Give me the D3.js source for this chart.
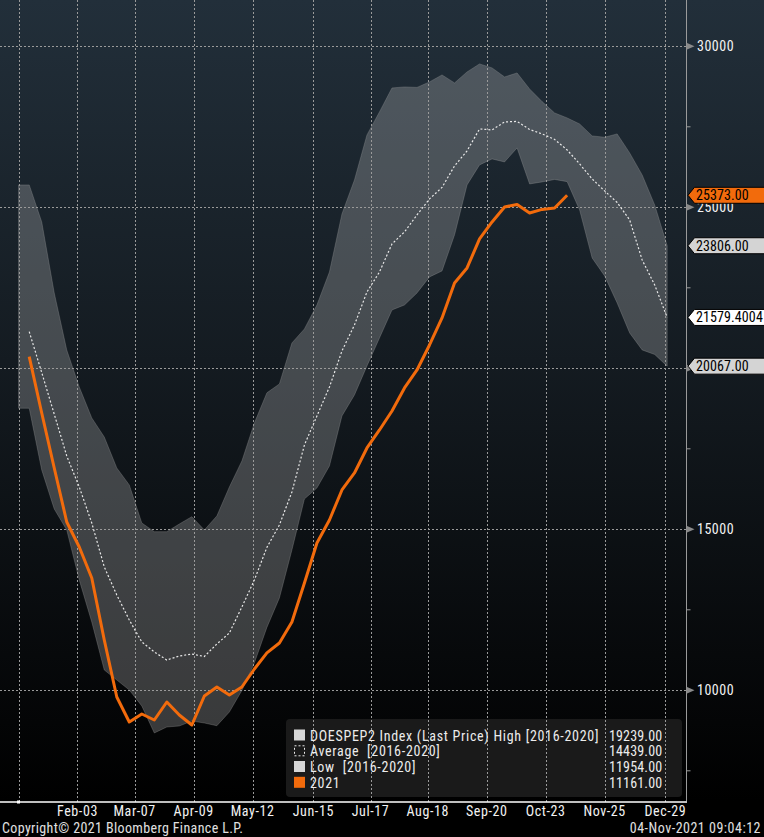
<!DOCTYPE html>
<html>
<head>
<meta charset="utf-8">
<script src="https://cdn.jsdelivr.net/npm/d3@7"></script>
<style>
  html, body { margin: 0; padding: 0; background: #000; }
  svg { display: block; }
  text { font-family: "Liberation Sans Narrow", "Roboto Condensed", "DejaVu Sans Condensed", "Liberation Sans", sans-serif; white-space: pre; }
</style>
</head>
<body>
<svg id="chart" width="764" height="837"></svg>
<script>
// ---------------- DATA ----------------
const bandStart = "2021-01-01";          // band begins at Jan 1
const firstWeek = "2021-01-07";          // weekly observations
const weekCount = 52;

const highValues = [25695, 25695, 24545, 22340, 20570, 19420, 18458, 17867, 16905, 16377, 15196, 14926, 14926,
  15165, 15392, 14979, 15414, 16314, 17122, 18302, 19239, 19514, 20787, 21222, 21967, 22992, 24794, 25850,
  27248, 27962, 28707, 28738, 28723, 28894, 29111, 28863, 29204, 29453, 29329, 29049, 29173, 28676, 28282,
  27931, 27776, 27589, 27217, 27176, 27279, 26689, 26005, 25073, 23806];

const lowValues = [18759, 18759, 16843, 15631, 14979, 13426, 12121, 10631, 10320, 10009, 9512, 8674, 8860,
  8891, 9046, 8984, 8900, 9326, 9994, 10848, 11954, 12867, 14358, 15942, 16283, 16967, 18520, 19172,
  20073, 20942, 21812, 21967, 22340, 22837, 23024, 24142, 25695, 26316, 26502, 26409, 26844, 25726, 25788,
  25865, 25797, 24918, 23427, 22868, 22030, 21098, 20570, 20430, 20067];

const avgValues = [21138, 19868, 18576, 17277, 16314, 15196, 13830, 12960, 12184, 11500, 11190, 10941, 11065,
  11127, 11050, 11438, 11780, 12587, 13426, 14439, 15134, 16159, 17619, 18520, 19420, 20539, 21346, 22371,
  22992, 23862, 24235, 24763, 25260, 25617, 26285, 26751, 27434, 27403, 27651, 27667, 27418, 27279, 27108,
  26782, 26347, 25881, 25508, 25151, 24608, 23365, 22589, 21579.4];

const values2021 = [20362, 18613, 16905, 15227, 14451, 13488, 11562, 9792, 9015, 9264, 9078, 9637, 9233,
  8922, 9823, 10102, 9854, 10102, 10662, 11161, 11469, 12121, 13333, 14575, 15290, 16221, 16749, 17526,
  18085, 18675, 19389, 19948, 20725, 21564, 22651, 23117, 24017, 24545, 25011, 25089, 24825, 24934, 24980, 25373];

const xTickDates = ["2021-02-03", "2021-03-07", "2021-04-09", "2021-05-12", "2021-06-15", "2021-07-17",
  "2021-08-18", "2021-09-20", "2021-10-23", "2021-11-25", "2021-12-29"];
const yTicks = [10000, 15000, 20000, 25000, 30000];
const yMinorTicks = [7500, 12500, 17500, 22500, 27500];

const legendLabels = ["DOESPEP2 Index (Last Price) High [2016-2020]", "Average  [2016-2020]", "Low  [2016-2020]", "2021"];
const legendValues = ["19239.00", "14439.00", "11954.00", "11161.00"];

const calloutValues = [25373.00, 23806.00, 21579.4004, 20067.00];
const calloutTexts = ["25373.00", "23806.00", "21579.4004", "20067.00"];

const copyrightText = "Copyright\u00A9 2021 Bloomberg Finance L.P.";
const stampText = "04-Nov-2021 09:04:12";

// ---------------- SETUP ----------------
const W = 764, H = 837;
const plotRight = 686.5, plotBottom = 802;
const ORANGE = "#f26b0c";

const parse = d3.utcParse("%Y-%m-%d");
const weeks = d3.range(weekCount).map(i => d3.utcDay.offset(parse(firstWeek), 7 * i));
const bandDates = [parse(bandStart)].concat(weeks);

const x = d3.scaleUtc()
  .domain([parse("2021-01-01"), parse("2021-12-29")])
  .range([18.5, 665.4]);
const y = d3.scaleLinear().domain([10000, 30000]).range([690.3, 46.3]);

const svg = d3.select("#chart");
const defs = svg.append("defs");
const grad = defs.append("linearGradient").attr("id", "bg").attr("x1", 0).attr("y1", 0).attr("x2", 0).attr("y2", 1);
grad.append("stop").attr("offset", "0").attr("stop-color", "#222f3a");
grad.append("stop").attr("offset", "0.45").attr("stop-color", "#141b21");
grad.append("stop").attr("offset", "0.9").attr("stop-color", "#040506");
grad.append("stop").attr("offset", "1").attr("stop-color", "#000000");

svg.append("rect").attr("width", W).attr("height", H).attr("fill", "#000");
svg.append("rect").attr("width", W).attr("height", plotBottom).attr("fill", "url(#bg)");

// legend background (under grid)
const legX = 286, legY = 719, legW = 396, legH = 78;
svg.append("rect").attr("x", legX).attr("y", legY).attr("width", legW).attr("height", legH)
  .attr("rx", 4).attr("fill", "#1a1a1a");

// band
const bandData = bandDates.map((d, i) => ({ d, hi: highValues[i], lo: lowValues[i] }));
svg.append("path").datum(bandData)
  .attr("d", d3.area().x(p => x(p.d)).y0(p => y(p.lo)).y1(p => y(p.hi)))
  .attr("fill", "rgba(213,213,213,0.26)")
  .attr("stroke", "rgba(170,170,170,0.28)").attr("stroke-width", 1);

// grid
const gridDates = [parse("2021-01-01")].concat(xTickDates.map(parse));
const grid = svg.append("g").attr("stroke", "#9a9a9a").attr("stroke-width", 1).attr("stroke-dasharray", "2,2");
grid.selectAll("line.v").data(gridDates).join("line")
  .attr("x1", d => Math.round(x(d)) + 0.5).attr("x2", d => Math.round(x(d)) + 0.5)
  .attr("y1", 0).attr("y2", plotBottom);
grid.selectAll("line.h").data(yTicks).join("line")
  .attr("x1", 0).attr("x2", plotRight)
  .attr("y1", d => Math.round(y(d)) + 0.5).attr("y2", d => Math.round(y(d)) + 0.5);

// average
svg.append("path").datum(avgValues)
  .attr("d", d3.line().x((v, i) => x(weeks[i])).y(v => y(v)))
  .attr("fill", "none").attr("stroke", "#e8e8e8").attr("stroke-width", 1.2).attr("stroke-dasharray", "2,2");

// 2021
svg.append("path").datum(values2021)
  .attr("d", d3.line().x((v, i) => x(weeks[i])).y(v => y(v)))
  .attr("fill", "none").attr("stroke", ORANGE).attr("stroke-width", 3).attr("stroke-linejoin", "round");

// axes
svg.append("line").attr("x1", plotRight).attr("x2", plotRight).attr("y1", 0).attr("y2", plotBottom + 1)
  .attr("stroke", "#9a9a9a").attr("stroke-width", 1);
svg.append("line").attr("x1", 0).attr("x2", plotRight).attr("y1", plotBottom).attr("y2", plotBottom)
  .attr("stroke", "#ffffff").attr("stroke-width", 1.5);
svg.append("rect").attr("x", x(parse("2021-01-01")) - 1.5).attr("y", plotBottom - 1.5).attr("width", 3).attr("height", 3).attr("fill", "#fff");

// right axis ticks
svg.selectAll("path.ytri").data(yTicks).join("path")
  .attr("d", d => { const c = y(d); return `M${plotRight},${c - 3.5}L${plotRight + 8},${c}L${plotRight},${c + 3.5}Z`; })
  .attr("fill", "#8a8a8a");
svg.selectAll("line.ymin").data(yMinorTicks).join("line")
  .attr("x1", plotRight).attr("x2", plotRight + 4)
  .attr("y1", d => y(d)).attr("y2", d => y(d)).attr("stroke", "#9a9a9a");
// tick labels fully hidden under a callout tag are not drawn (as in the reference)
const visibleTicks = yTicks.filter(t => !calloutValues.some(v => Math.abs(y(v) - y(t)) < 8));
svg.selectAll("text.ytick").data(visibleTicks).join("text")
  .attr("x", 697).attr("y", d => y(d) + 5)
  .attr("fill", "#f2f2f2").attr("font-size", 14).attr("letter-spacing", 0.5)
  .text(d => d3.format("d")(d));

// x tick labels
const fmt = d3.utcFormat("%b-%d");
svg.selectAll("text.xtick").data(xTickDates.map(parse)).join("text")
  .attr("x", d => x(d)).attr("y", 816).attr("text-anchor", "middle")
  .attr("fill", "#f2f2f2").attr("font-size", 14).attr("letter-spacing", 0.6)
  .text(d => fmt(d));

// copyright & stamp
svg.append("text").attr("x", 2).attr("y", 833).attr("fill", "#e0e0e0").attr("font-size", 14)
  .attr("letter-spacing", 0.37).text(copyrightText);
svg.append("text").attr("x", 761).attr("y", 833).attr("text-anchor", "end").attr("fill", "#e0e0e0").attr("font-size", 14)
  .attr("letter-spacing", 0.5).text(stampText);

// legend contents
const legRowY = [735.5, 751.3, 767, 782.8];
const swatchFill = ["#d6d6d6", "none", "#d6d6d6", ORANGE];
legendLabels.forEach((lab, i) => {
  const cy = legRowY[i];
  if (i === 1) {
    svg.append("rect").attr("x", 294.5).attr("y", cy - 5.5).attr("width", 10).attr("height", 10)
      .attr("fill", "none").attr("stroke", "#e8e8e8").attr("stroke-dasharray", "2,2");
  } else {
    svg.append("rect").attr("x", 294).attr("y", cy - 6).attr("width", 11).attr("height", 11).attr("fill", swatchFill[i]);
  }
  svg.append("text").attr("x", 310).attr("y", cy + 5).attr("fill", "#ececec").attr("font-size", 14)
    .attr("letter-spacing", 0.7).text(lab);
  svg.append("text").attr("x", 609).attr("y", cy + 5).attr("fill", "#ececec").attr("font-size", 14)
    .attr("letter-spacing", 0.15).text(legendValues[i]);
});

// callouts
const calloutFill = [ORANGE, "#d4d4d4", "#ffffff", "#d4d4d4"];
calloutValues.forEach((v, i) => {
  const c = y(v);
  svg.append("path")
    .attr("d", `M${plotRight + 1.5},${c}L${plotRight + 8},${c - 8}L${W + 2},${c - 8}L${W + 2},${c + 8}L${plotRight + 8},${c + 8}Z`)
    .attr("fill", calloutFill[i]).attr("stroke", "#000").attr("stroke-width", 1);
  svg.append("text").attr("x", 696).attr("y", c + 5).attr("fill", "#000").attr("font-size", 14)
    .attr("letter-spacing", 0.1).text(calloutTexts[i]);
});
</script>
</body>
</html>
